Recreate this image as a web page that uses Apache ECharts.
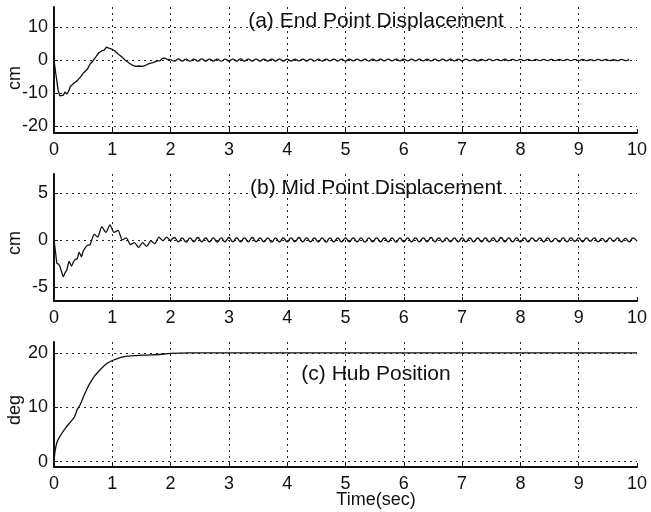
<!DOCTYPE html>
<html>
<head>
<meta charset="utf-8">
<script src="https://cdn.jsdelivr.net/npm/echarts@6/dist/echarts.min.js"></script>
<style>
  html, body { margin: 0; padding: 0; background: #fff; }
  #chart { width: 651px; height: 512px; }
</style>
</head>
<body>
<div id="chart"></div>
<script>
// x axis (seconds)
const timeTicks = [0, 1, 2, 3, 4, 5, 6, 7, 8, 9, 10]
const endTicks = [-20, -10, 0, 10]
const midTicks = [-5, 0, 5]
const hubTicks = [0, 10, 20]

// (a) end point, first two seconds
const endT = [0, 0.03, 0.07, 0.1, 0.13, 0.16, 0.19, 0.22, 0.25, 0.28, 0.31, 0.34, 0.37, 0.4, 0.43, 0.46, 0.5, 0.53, 0.57, 0.62, 0.67, 0.72, 0.77, 0.82, 0.86, 0.9, 0.94, 0.97, 1.0, 1.04, 1.1, 1.16, 1.22, 1.28, 1.34, 1.4, 1.46, 1.52, 1.58, 1.64, 1.7, 1.76, 1.82, 1.86, 1.9, 1.95, 2.0]
const endCm = [0, -4, -9, -10.8, -10.2, -10.6, -9.6, -10.3, -9.4, -8.0, -8.4, -7.0, -7.3, -6.2, -6.6, -5.0, -4.0, -4.4, -2.8, -1.2, -0.2, 1.0, 2.2, 2.8, 3.0, 3.9, 3.6, 3.0, 3.2, 2.8, 1.8, 1.0, 0.0, -0.8, -1.5, -1.9, -1.8, -1.9, -1.5, -1.0, -0.8, -0.3, -0.2, 0.5, 0.6, 0.1, 0.2]
// (a) residual ripple after 2 s, one value every tailStep
const tailStep = 1 / 15
const endTailCm = [
  -0.3, 0.35, -0.3, 0.3, -0.35, 0.3, -0.3, 0.35, -0.3, 0.3, -0.3, 0.3, -0.35, 0.3, -0.3,
  0.3, -0.3, 0.35, -0.3, 0.3, -0.3, 0.3, -0.3, 0.3, -0.3, 0.3, -0.3, 0.3, -0.3, 0.3,
  -0.3, 0.3, -0.25, 0.3, -0.3, 0.3, -0.3, 0.25, -0.3, 0.3, -0.25, 0.3, -0.3, 0.25, -0.3,
  0.3, -0.25, 0.3, -0.25, 0.25, -0.3, 0.3, -0.25, 0.3, -0.25, 0.25, -0.25, 0.3, -0.25, 0.25,
  -0.25, 0.25, -0.25, 0.25, -0.25, 0.25, -0.25, 0.25, -0.25, 0.25, -0.25, 0.25, -0.25, 0.25, -0.25,
  0.25, -0.2, 0.2, -0.25, 0.2, -0.2, 0.25, -0.2, 0.2, -0.2, 0.25, -0.2, 0.2, -0.2, 0.2,
  -0.2, 0.2, -0.2, 0.2, -0.2, 0.2, -0.2, 0.2, -0.2, 0.2, -0.2, 0.2, -0.2, 0.2, -0.2,
  0.2, -0.2, 0.15, -0.2, 0.2, -0.15, 0.2, -0.2, 0.15, -0.2, 0.2, -0.15, 0.15
]

// (b) mid point, first two seconds
const midT = [0, 0.03, 0.05, 0.08, 0.1, 0.13, 0.16, 0.19, 0.22, 0.26, 0.3, 0.33, 0.36, 0.4, 0.43, 0.47, 0.5, 0.53, 0.57, 0.62, 0.69, 0.75, 0.82, 0.89, 0.96, 1.03, 1.1, 1.17, 1.24, 1.31, 1.38, 1.45, 1.52, 1.59, 1.66, 1.73, 1.8, 1.87, 1.93, 2.0]
const midCm = [0, -1.5, -2.5, -2.6, -2.8, -3.4, -3.9, -3.5, -3.2, -2.3, -2.8, -2.4, -2.1, -2.0, -1.3, -1.8, -1.2, -0.9, -0.6, -0.5, 0.6, 0.3, 1.4, 0.8, 1.6, 0.8, 1.0, 0.0, 0.2, -0.5, -0.3, -0.8, -0.3, -0.7, -0.1, -0.4, 0.3, -0.1, 0.3, -0.1]
const midTailCm = [
  0.25, -0.2, 0.2, -0.25, 0.2, -0.2, 0.25, -0.2, 0.2, -0.2, 0.2, -0.25, 0.2, -0.2, 0.25,
  -0.2, 0.2, -0.2, 0.2, -0.2, 0.25, -0.2, 0.2, -0.2, 0.2, -0.25, 0.2, -0.2, 0.2, -0.2,
  0.2, -0.2, 0.25, -0.2, 0.2, -0.2, 0.2, -0.2, 0.2, -0.25, 0.2, -0.2, 0.2, -0.2, 0.2,
  -0.2, 0.2, -0.2, 0.2, -0.25, 0.2, -0.2, 0.2, -0.2, 0.2, -0.2, 0.2, -0.25, 0.2, -0.2,
  0.2, -0.2, 0.2, -0.2, 0.2, -0.2, 0.25, -0.2, 0.2, -0.2, 0.2, -0.2, 0.2, -0.2, 0.2,
  -0.2, 0.2, -0.2, 0.2, -0.2, 0.2, -0.2, 0.2, -0.2, 0.25, -0.2, 0.2, -0.2, 0.2, -0.2,
  0.2, -0.2, 0.2, -0.15, 0.2, -0.2, 0.2, -0.2, 0.15, -0.2, 0.2, -0.2, 0.2, -0.15, 0.2,
  -0.2, 0.2, -0.15, 0.2, -0.2, 0.15, -0.2, 0.2, -0.15, 0.2, -0.2, 0.15, -0.2, 0.2, -0.15
]

// (c) hub position
const hubT = [0, 0.02, 0.05, 0.1, 0.2, 0.3, 0.35, 0.4, 0.45, 0.5, 0.55, 0.6, 0.7, 0.8, 0.9, 1.0, 1.1, 1.2, 1.4, 1.6, 1.8, 2.0, 2.3, 3, 4, 5, 6, 7, 8, 9, 10]
const hubDeg = [0, 2, 3.5, 4.6, 6.2, 7.5, 8.2, 9.6, 10.5, 11.8, 13.0, 14.1, 15.8, 17.0, 18.0, 18.6, 19.0, 19.3, 19.5, 19.6, 19.7, 19.9, 20.0, 20.0, 20.0, 20.0, 20.0, 20.0, 20.0, 20.0, 20.0]

const FONT = '"Liberation Sans", Arial, Helvetica, sans-serif'
const INK = '#111'

function pairs (ts, vs) {
  return ts.map((t, i) => [t, vs[i]])
}
// ripple part starts from the last early point so the line stays joined
function tailPairs (ts, vs, tail) {
  let last = ts.length - 1
  return [[ts[last], vs[last]]].concat(tail.map((v, k) => [2 + (k + 1) * tailStep, v]))
}

const grids = [
  {left: 54, width: 583, top: 7, height: 126},
  {left: 54, width: 583, top: 174, height: 127},
  {left: 54, width: 583, top: 342, height: 125}
]
grids.forEach(g => { g.outerBoundsMode = 'none' })

const dotted = {show: true, lineStyle: {color: '#222', width: 1, type: [2, 4]}}

function xAxisFor (i) {
  return {
    type: 'value', gridIndex: i, min: 0, max: 10, interval: 1,
    axisLine: {show: true, onZero: false, lineStyle: {color: INK, width: 2}},
    axisTick: {show: true, inside: true, length: 4, lineStyle: {color: INK}},
    axisLabel: {color: INK, fontSize: 18, fontFamily: FONT, margin: 8, customValues: timeTicks},
    splitLine: Object.assign({showMinLine: false, showMaxLine: false}, dotted)
  }
}
function yAxisFor (i, min, max, ticks) {
  return {
    type: 'value', gridIndex: i, min: min, max: max,
    axisLine: {show: true, onZero: false, lineStyle: {color: INK, width: 2}},
    axisTick: {show: true, inside: true, length: 4, lineStyle: {color: INK}, customValues: ticks},
    axisLabel: {color: INK, fontSize: 18, fontFamily: FONT, margin: 6, customValues: ticks},
    splitLine: dotted
  }
}
function lineSeries (i, data, smooth) {
  return {
    type: 'line', xAxisIndex: i, yAxisIndex: i, data: data,
    showSymbol: false, smooth: smooth || false,
    lineStyle: {color: INK, width: 1.3}
  }
}
function label (text, x, y, size, rot) {
  return {
    type: 'text', x: x, y: y, rotation: rot || 0, silent: true,
    style: {text: text, fill: INK, font: size + 'px ' + FONT, textAlign: 'center', textVerticalAlign: 'middle'}
  }
}

let myChart = echarts.init(document.getElementById('chart'))
myChart.setOption({
  animation: false,
  grid: grids,
  xAxis: [xAxisFor(0), xAxisFor(1), xAxisFor(2)],
  yAxis: [
    yAxisFor(0, -22, 16, endTicks),
    yAxisFor(1, -6.5, 7, midTicks),
    yAxisFor(2, -1, 22, hubTicks)
  ],
  series: [
    lineSeries(0, pairs(endT, endCm)),
    lineSeries(0, tailPairs(endT, endCm, endTailCm), 0.5),
    lineSeries(1, pairs(midT, midCm), 0.2),
    lineSeries(1, tailPairs(midT, midCm, midTailCm), 0.5),
    lineSeries(2, pairs(hubT, hubDeg), 0.3)
  ],
  graphic: [
    label('(a) End Point Displacement', 376, 21, 21),
    label('(b) Mid Point Displacement', 376, 188, 21),
    label('(c) Hub Position', 376, 374, 21),
    label('cm', 15, 78, 18, Math.PI / 2),
    label('cm', 15, 243, 18, Math.PI / 2),
    label('deg', 15, 410, 18, Math.PI / 2),
    label('Time(sec)', 376, 500, 18)
  ]
})
</script>
</body>
</html>
